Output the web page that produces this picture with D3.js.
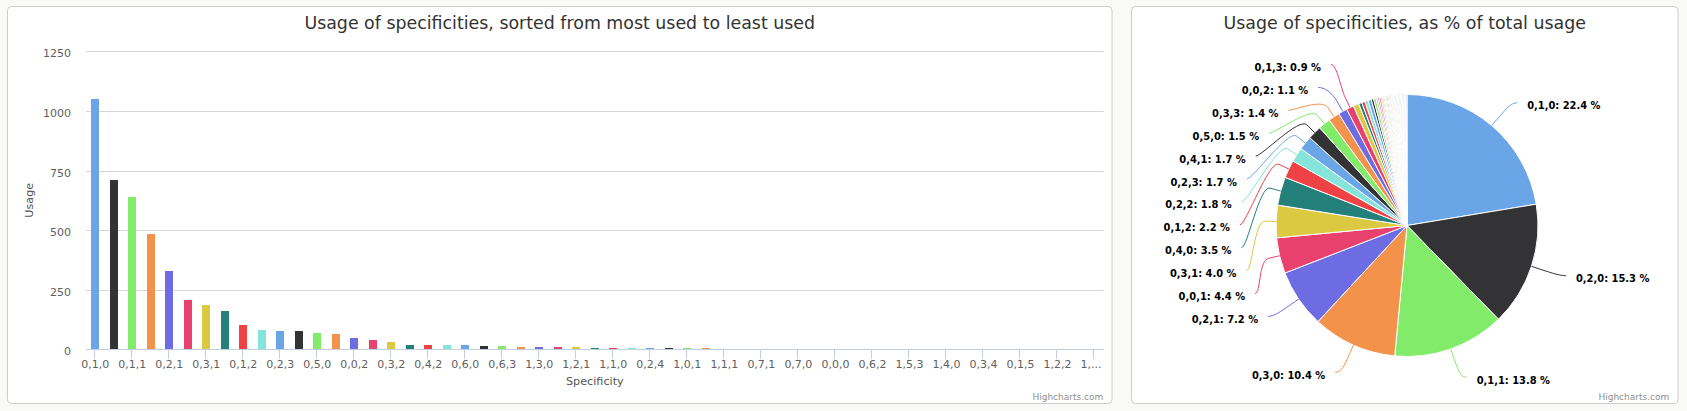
<!DOCTYPE html>
<html><head><meta charset="utf-8">
<script src="https://cdn.jsdelivr.net/npm/d3@7"></script>
<style>
html,body{margin:0;padding:0;background:#f9f9f7;}
svg{display:block;}
text{font-family:"DejaVu Sans",sans-serif;}
</style></head><body>
<svg id="c" width="1687" height="411"></svg>
<script>
// ---------- data ----------
const categories = ["0,1,0","0,2,0","0,1,1","0,3,0","0,2,1","0,0,1","0,3,1","0,4,0","0,1,2","0,2,2",
  "0,2,3","0,4,1","0,5,0","0,3,3","0,0,2","0,1,3","0,3,2","0,5,1","0,4,2","1,0,0",
  "0,6,0","0,5,2","0,6,3","0,4,3","1,3,0","1,2,0","1,2,1","0,1,4","1,1,0","0,5,3",
  "0,2,4","1,4,1","1,0,1","0,6,1","1,1,1","1,3,1","0,7,1","0,0,3","0,7,0","1,0,2",
  "0,0,0","0,4,4","0,6,2","1,2,3","1,5,3","0,8,0","1,4,0","1,1,2","0,3,4","0,5,4",
  "0,1,5","1,6,0","1,2,2","0,2,5","1,3,2"];
const usage = [1048,710,640,485,328,207,186,162,102,81,
  77,77,68,64,47,39,31,18,18,18,
  18,14,14,10,10,10,10,6,6,6,
  6,6,6,6,1,1,1,1,1,1,
  1,1,1,1,1,1,1,1,1,1,
  1,1,1,1,1];
const shares = [22.4,15.3,13.8,10.4,7.2,4.4,4.0,3.5,2.2,1.8,
  1.7,1.7,1.5,1.4,1.1,0.9,0.7,0.4,0.4,0.4,
  0.4,0.3,0.3,0.2,0.2,0.2,0.2,0.13,0.13,0.13,
  0.13,0.13,0.13,0.13,0.1,0.1,0.1,0.1,0.1,0.1,
  0.1,0.1,0.1,0.1,0.1,0.1,0.1,0.1,0.1,0.1,
  0.1,0.1,0.1,0.1,0.1];
const yTicks = [0,250,500,750,1000,1250];
const palette = ["#6aa5e7","#333336","#82ec6a","#f3924b","#6e6ce2","#e9416e","#dcc942","#24807b","#ee4245","#85e5db"];
const barTitle = "Usage of specificities, sorted from most used to least used";
const pieTitle = "Usage of specificities, as % of total usage";
const xTitle = "Specificity", yTitle = "Usage", credit = "Highcharts.com";

// ---------- layout ----------
const svg = d3.select("#c");
const P1 = {x:7.5, y:6.5, w:1104.5, h:397};
const P2 = {x:1131.5, y:6.5, w:546.5, h:397};
[P1,P2].forEach(p => svg.append("rect").attr("x",p.x).attr("y",p.y).attr("width",p.w).attr("height",p.h)
  .attr("rx",4).attr("fill","#fff").attr("stroke","#cccccc"));

// ---------- bar chart ----------
const plot = {l:86, r:1103.7, t:51.3, b:349.3};
const x = d3.scaleBand().domain(categories).range([plot.l, plot.r]).padding(0);
const y = d3.scaleLinear().domain([0,1250]).range([plot.b, plot.t]);
const g1 = svg.append("g");

g1.append("text").attr("x", P1.x + P1.w/2).attr("y", 29).attr("text-anchor","middle")
  .attr("font-size","17.4px").attr("fill","#333").text(barTitle);

// grid
g1.append("g").selectAll("line").data(yTicks).join("line")
  .attr("x1",plot.l).attr("x2",plot.r).attr("y1",d=>Math.round(y(d))+0.5).attr("y2",d=>Math.round(y(d))+0.5)
  .attr("stroke","#d8d8d8");
// y labels
g1.append("g").selectAll("text").data(yTicks).join("text")
  .attr("x",71).attr("y",d=>y(d)+6).attr("text-anchor","end").attr("font-size","11px").attr("fill","#606060")
  .text(d=>d);
// bars
const bw = 8;
g1.append("g").selectAll("rect").data(usage).join("rect")
  .attr("x",(d,i)=>Math.round(x(categories[i]) + x.bandwidth()/2 - bw/2))
  .attr("width",bw)
  .attr("y",d=>Math.round(y(d)))
  .attr("height",d=>Math.round(y(0)) - Math.round(y(d)))
  .attr("fill",(d,i)=>palette[i%palette.length]);
// axis line
g1.append("line").attr("x1",plot.l).attr("x2",plot.r).attr("y1",Math.round(y(0))+0.5).attr("y2",Math.round(y(0))+0.5)
  .attr("stroke","#c0d0e0");
// ticks + labels (every second category)
const shown = categories.filter((c,i)=>i%2===0);
g1.append("g").selectAll("line").data(shown).join("line")
  .attr("x1",d=>Math.round(x(d)+x.bandwidth()/2)-0.5).attr("x2",d=>Math.round(x(d)+x.bandwidth()/2)-0.5)
  .attr("y1",Math.round(y(0))).attr("y2",Math.round(y(0))+10).attr("stroke","#c0d0e0");
const xl = g1.append("g").selectAll("text").data(shown).join("text")
  .attr("x",d=>x(d)+x.bandwidth()/2).attr("y",368).attr("text-anchor","middle")
  .attr("font-size","11px").attr("fill","#606060").text(d=>d);
xl.each(function(d){
  const el = d3.select(this);
  const w = this.getComputedTextLength();
  const cxp = x(d)+x.bandwidth()/2;
  if (cxp + w/2 > plot.r) {
    const left = cxp - w/2;
    let s = d;
    el.attr("text-anchor","start").attr("x",left);
    while (s.length > 1) {
      s = s.slice(0,-1);
      el.text(s + "...");
      if (left + this.getComputedTextLength() <= plot.r) break;
    }
  }
});
// axis titles
g1.append("text").attr("x",(plot.l+plot.r)/2).attr("y",385).attr("text-anchor","middle")
  .attr("font-size","11.2px").attr("fill","#555").text(xTitle);
g1.append("text").attr("transform",`translate(33,${(plot.t+plot.b)/2}) rotate(-90)`).attr("text-anchor","middle")
  .attr("font-size","11.2px").attr("fill","#555").text(yTitle);
g1.append("text").attr("x",1103.3).attr("y",400).attr("text-anchor","end").attr("font-size","9px")
  .attr("fill","#909090").text(credit);

// ---------- pie chart ----------
const g2 = svg.append("g");
g2.append("text").attr("x", P2.x + P2.w/2).attr("y", 29).attr("text-anchor","middle")
  .attr("font-size","17.4px").attr("fill","#333").text(pieTitle);
g2.append("text").attr("x",1669.3).attr("y",400).attr("text-anchor","end").attr("font-size","9px")
  .attr("fill","#909090").text(credit);

const cx = 1407, cy = 225.5, r = 131, dist = 30, R = r + dist, slotH = 22.9;
const pieData = shares.map((v,i)=>({name:categories[i], value:v, i}));
const arcs = d3.pie().sort(null).value(d=>d.value)(pieData);
const arcGen = d3.arc().innerRadius(0).outerRadius(r);
g2.append("g").attr("transform",`translate(${cx},${cy})`).selectAll("path").data(arcs).join("path")
  .attr("d",arcGen).attr("fill",d=>palette[d.data.i%palette.length])
  .attr("stroke","#fff").attr("stroke-width",1).attr("stroke-linejoin","round");

arcs.forEach(a=>{
  a.mid = (a.startAngle+a.endAngle)/2;
  a.left = a.mid > Math.PI;
  a.natX = cx + Math.sin(a.mid)*R;
  a.natY = cy - Math.cos(a.mid)*R;
});
const capacity = Math.floor(2*R/slotH) - 1;
const labelled = [];
[true,false].forEach(side=>{
  let pts = arcs.filter(a=>a.left===side).sort((a,b)=>b.value-a.value).slice(0,capacity);
  pts.sort((a,b)=>a.natY-b.natY);
  const n = pts.length;
  for (let k=n-1;k>=0;k--) pts[k].ly = (k===n-1) ? Math.min(pts[k].natY, cy+R) : Math.min(pts[k].natY, pts[k+1].ly - slotH);
  for (let k=0;k<n;k++) pts[k].ly = (k===0) ? Math.max(pts[k].ly, cy-R) : Math.max(pts[k].ly, pts[k-1].ly + slotH);
  pts.forEach(p=>{
    const dy = p.ly - cy;
    p.lx = Math.abs(dy) >= R - 1e-9 ? p.natX : cx + (side?-1:1)*Math.sqrt(R*R-dy*dy);
    labelled.push(p);
  });
});
const gl = g2.append("g");
labelled.forEach(p=>{
  const s = p.left ? -1 : 1;
  const ax = cx + Math.sin(p.mid)*r, ay = cy - Math.cos(p.mid)*r;
  const bx = cx + Math.sin(p.mid)*(r+11), by = cy - Math.cos(p.mid)*(r+11);
  const path = `M${p.lx + s*6},${p.ly} C${p.lx},${p.ly} ${2*bx-ax},${2*by-ay} ${bx},${by} L${ax},${ay}`;
  gl.append("path").attr("d",path).attr("fill","none").attr("stroke",palette[p.data.i%palette.length]).attr("stroke-width",1);
  gl.append("text").attr("x",p.lx + s*16).attr("y",p.ly+6.5).attr("text-anchor",p.left?"end":"start")
    .attr("font-size","11px").attr("font-weight","bold").attr("fill","#000")
    .style("font-family",'"DejaVu Sans Condensed","Liberation Sans",sans-serif')
    .text(`${p.data.name}: ${p.data.value.toFixed(1)} %`);
});
</script>
</body></html>
